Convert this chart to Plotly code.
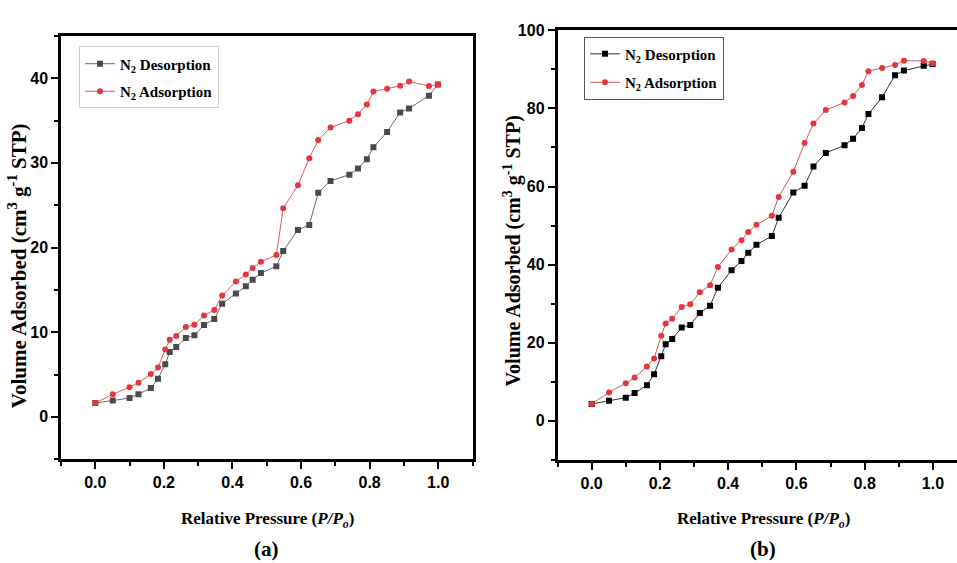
import plotly.graph_objects as go

# Relative pressure (P/Po)
pressure = [0.0, 0.051, 0.100, 0.126, 0.162, 0.183, 0.204, 0.217, 0.236, 0.264, 0.289,
            0.317, 0.347, 0.370, 0.410, 0.439, 0.459, 0.483, 0.528, 0.548, 0.591, 0.624,
            0.650, 0.686, 0.741, 0.766, 0.792, 0.811, 0.851, 0.889, 0.915, 0.973, 0.999]

# Panel (a)
a_desorption = [1.63, 1.94, 2.22, 2.68, 3.42, 4.51, 6.22, 7.66, 8.24, 9.33, 9.64,
                10.85, 11.55, 13.37, 14.58, 15.43, 16.21, 16.99, 17.80, 19.59, 22.08, 22.66,
                26.47, 27.87, 28.61, 29.35, 30.44, 31.84, 33.66, 35.96, 36.42, 37.94, 39.26]
a_adsorption = [1.63, 2.68, 3.50, 4.04, 5.05, 5.83, 7.97, 9.10, 9.56, 10.61, 10.88,
                11.97, 12.63, 14.34, 15.98, 16.83, 17.57, 18.31, 19.13, 24.64, 27.37, 30.55,
                32.69, 34.17, 34.99, 35.76, 36.89, 38.44, 38.75, 39.11, 39.61, 39.07, 39.26]

# Panel (b)
b_desorption = [4.30, 5.15, 5.91, 7.09, 9.11, 11.90, 16.54, 19.58, 20.93, 23.88, 24.56,
                27.59, 29.45, 34.09, 38.57, 40.93, 43.04, 45.06, 47.34, 51.98, 58.48, 60.17,
                65.15, 68.61, 70.55, 72.24, 75.02, 78.57, 82.87, 88.52, 89.70, 90.97, 91.39]
b_adsorption = [4.30, 7.26, 9.62, 11.05, 13.92, 15.95, 21.77, 24.89, 26.16, 29.11, 29.87,
                32.91, 34.68, 39.41, 43.88, 46.24, 48.35, 50.21, 52.49, 57.30, 63.80, 71.14,
                76.12, 79.58, 81.52, 83.21, 85.99, 89.54, 90.38, 91.14, 92.24, 92.15, 91.56]

x_ticks = [0.0, 0.2, 0.4, 0.6, 0.8, 1.0]
x_ticklabels = ["0.0", "0.2", "0.4", "0.6", "0.8", "1.0"]
a_yticks = [0, 10, 20, 30, 40]
b_yticks = [0, 20, 40, 60, 80, 100]

name_des = "N<sub>2</sub> Desorption"
name_ads = "N<sub>2</sub> Adsorption"
xtitle = "Relative Pressure (<i>P/P<sub>o</sub></i>)"
ytitle = "Volume Adsorbed (cm<sup>3</sup> g<sup>-1</sup> STP)"

W, H = 957, 563
RED = "#e8343c"
TICKFONT = dict(family="Liberation Sans, Arial, sans-serif", size=16, color="black", weight="bold")
SERIF = "Liberation Serif, Times New Roman, serif"

fig = go.Figure()

fig.add_trace(go.Scatter(x=pressure, y=a_desorption, mode="lines+markers", name=name_des,
                         line=dict(color="#6a6a6a", width=1),
                         marker=dict(symbol="square", size=6, color="#4a4a4a"),
                         xaxis="x", yaxis="y", legend="legend", legendgroup="d"))
fig.add_trace(go.Scatter(x=pressure, y=a_adsorption, mode="lines+markers", name=name_ads,
                         line=dict(color="#dd5a5f", width=1),
                         marker=dict(symbol="circle", size=6, color=RED),
                         xaxis="x", yaxis="y", legend="legend", legendgroup="a"))
fig.add_trace(go.Scatter(x=pressure, y=b_desorption, mode="lines+markers", name=name_des,
                         line=dict(color="#333333", width=1),
                         marker=dict(symbol="square", size=6, color="black"),
                         xaxis="x2", yaxis="y2", legend="legend2", legendgroup="d2"))
fig.add_trace(go.Scatter(x=pressure, y=b_adsorption, mode="lines+markers", name=name_ads,
                         line=dict(color="#cc5a5f", width=1),
                         marker=dict(symbol="circle", size=6, color=RED),
                         xaxis="x2", yaxis="y2", legend="legend2", legendgroup="a2"))

def xaxis(domain, rng, anchor, mirror):
    return dict(domain=domain, range=rng, anchor=anchor, tickvals=x_ticks, ticktext=x_ticklabels,
                ticks="outside", ticklen=7, tickwidth=2, tickcolor="black",
                minor=dict(dtick=0.1, tick0=0, ticks="outside", ticklen=4, tickwidth=1.5, tickcolor="black"),
                showline=True, linewidth=2.5, linecolor="black", mirror=mirror,
                showgrid=False, zeroline=False, tickfont=TICKFONT)

def yaxis(domain, rng, anchor, tickvals, minor_dtick, mirror):
    return dict(domain=domain, range=rng, anchor=anchor, tickvals=tickvals,
                ticks="outside", ticklen=7, tickwidth=2, tickcolor="black",
                minor=dict(dtick=minor_dtick, tick0=0, ticks="outside", ticklen=4, tickwidth=1.5, tickcolor="black"),
                showline=True, linewidth=2.5, linecolor="black", mirror=mirror,
                showgrid=False, zeroline=False, tickfont=TICKFONT)

ax_l = [61 / W, 472.5 / W]
ax_r = [557.5 / W, 1.0]
ay_l = [1 - 457.7 / H, 1 - 28.3 / H]
ay_r = [1 - 458.3 / H, 1 - 22.7 / H]

legend_font = dict(family=SERIF, size=15, color="black", weight="bold")

fig.update_layout(
    width=W, height=H, autosize=False,
    margin=dict(l=0, r=0, t=0, b=0),
    paper_bgcolor="white", plot_bgcolor="white",
    xaxis=xaxis(ax_l, [-0.1, 1.1], "y", True),
    yaxis=yaxis(ay_l, [-5, 45], "x", a_yticks, 5, True),
    xaxis2=xaxis(ax_r, [-0.1, 1.0705], "y2", True),
    yaxis2=yaxis(ay_r, [-10, 100], "x2", b_yticks, 10, False),
    legend=dict(x=79 / W, y=1 - 39 / H, xanchor="left", yanchor="top",
                bgcolor="white", bordercolor="#cfcfcf", borderwidth=1,
                font=legend_font, tracegroupgap=5, itemwidth=30),
    legend2=dict(x=584 / W, y=1 - 29 / H, xanchor="left", yanchor="top",
                 bgcolor="white", bordercolor="#555555", borderwidth=1,
                 font=legend_font, tracegroupgap=6, itemwidth=30),
    showlegend=True,
)

annotations = [
    dict(text=ytitle, x=17 / W, y=1 - 262 / H, textangle=-90,
         font=dict(family=SERIF, size=21, color="black", weight="bold")),
    dict(text=ytitle, x=512 / W, y=1 - 247 / H, textangle=-90,
         font=dict(family=SERIF, size=20, color="black", weight="bold")),
    dict(text=xtitle, x=267 / W, y=1 - 519 / H,
         font=dict(family=SERIF, size=17, color="black", weight="bold")),
    dict(text=xtitle, x=763 / W, y=1 - 519 / H,
         font=dict(family=SERIF, size=17, color="black", weight="bold")),
    dict(text="(a)", x=266 / W, y=1 - 549 / H,
         font=dict(family=SERIF, size=21, color="black", weight="bold")),
    dict(text="(b)", x=763 / W, y=1 - 549 / H,
         font=dict(family=SERIF, size=21, color="black", weight="bold")),
]
for a in annotations:
    a.update(xref="paper", yref="paper", showarrow=False, xanchor="center", yanchor="middle")
fig.update_layout(annotations=annotations)

fig.write_html("out.html")
